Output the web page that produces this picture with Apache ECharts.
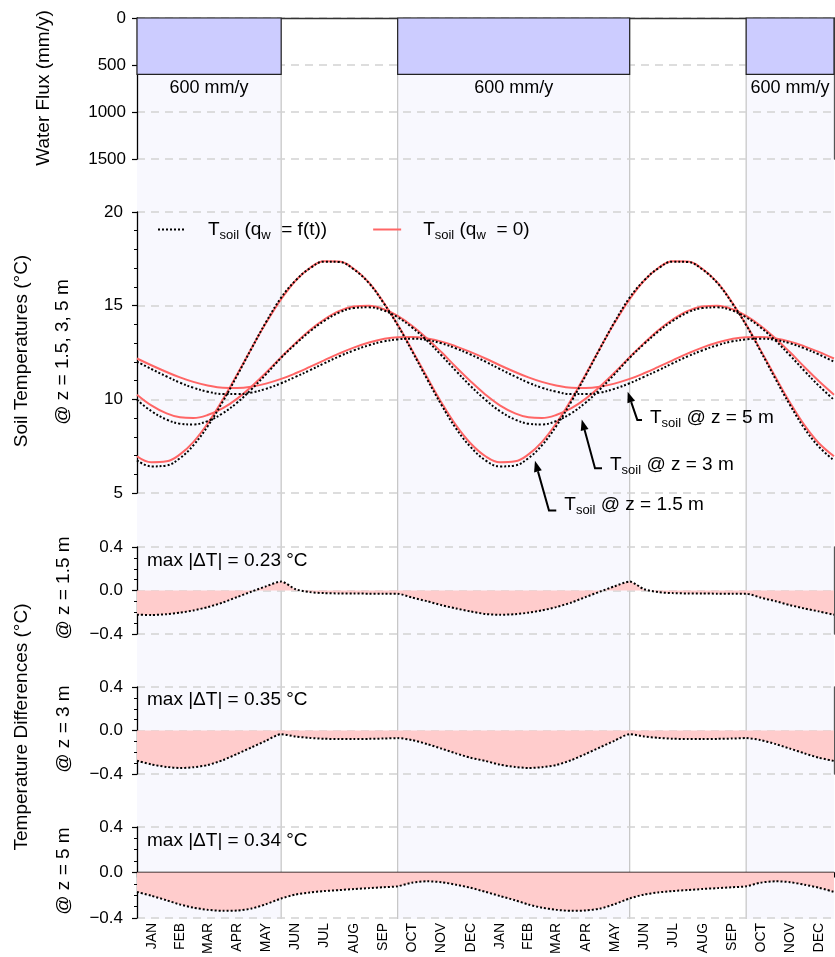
<!DOCTYPE html>
<html><head><meta charset="utf-8">
<script src="https://cdn.jsdelivr.net/npm/echarts@6/dist/echarts.min.js"></script>
<style>html,body{margin:0;padding:0;background:#fff}#c{width:835px;height:957px}</style>
</head><body><div id="c"></div>
<script>
// ---------- data ----------
const monthLabels = ['JAN','FEB','MAR','APR','MAY','JUN','JUL','AUG','SEP','OCT','NOV','DEC','JAN','FEB','MAR','APR','MAY','JUN','JUL','AUG','SEP','OCT','NOV','DEC'];
const monthEdges = [0,31,59,90,120,151,181,212,243,273,304,334,365,396,424,455,485,516,546,577,608,638,669,699,730];

// water flux periods (day of 2-year run) and rates (mm/y)
const fluxStart = [0, 273, 638];
const fluxEnd   = [151, 516, 730];
const fluxRate  = [600, 600, 600];

// sample days (half-month) for all curves
const sampleDays = [0,15,31,45,59,74,90,105,120,135,151,166,181,196,212,227,243,258,273,288,304,319,334,349,365,380,396,410,424,439,455,470,485,500,516,531,546,561,577,592,608,623,638,653,669,684,699,714,730];

// soil temperatures (deg C), conduction only (q_w = 0)
const tZero15 = [6.96,6.64,6.69,7.06,7.72,8.71,10.00,11.34,12.73,14.07,15.35,16.33,17.01,17.37,17.36,16.97,16.23,15.19,13.99,12.64,11.16,9.82,8.62,7.67,
                 6.96,6.64,6.69,7.06,7.72,8.71,10.00,11.34,12.73,14.07,15.35,16.33,17.01,17.37,17.36,16.97,16.23,15.19,13.99,12.64,11.16,9.82,8.62,7.67,6.96];
const tZero3  = [10.25,9.68,9.25,9.04,9.00,9.16,9.53,10.04,10.69,11.42,12.25,13.00,13.69,14.26,14.72,14.95,14.99,14.82,14.45,13.93,13.24,12.51,11.73,10.98,
                 10.25,9.68,9.25,9.04,9.00,9.16,9.53,10.04,10.69,11.42,12.25,13.00,13.69,14.26,14.72,14.95,14.99,14.82,14.45,13.93,13.24,12.51,11.73,10.98,10.25];
const tZero5  = [12.18,11.82,11.46,11.17,10.93,10.74,10.62,10.61,10.68,10.84,11.09,11.39,11.73,12.08,12.45,12.76,13.03,13.22,13.32,13.33,13.25,13.08,12.83,12.53,
                 12.18,11.82,11.46,11.17,10.93,10.74,10.62,10.61,10.68,10.84,11.09,11.39,11.73,12.08,12.45,12.76,13.03,13.22,13.32,13.33,13.25,13.08,12.83,12.53,12.18];
// soil temperatures (deg C), with water flux (q_w = f(t))
const tFlow15 = [6.74,6.42,6.47,6.86,7.54,8.56,9.89,11.28,12.72,14.11,15.43,16.34,16.99,17.35,17.33,16.94,16.20,15.16,13.96,12.58,11.06,9.69,8.45,7.48,
                 6.74,6.42,6.47,6.86,7.54,8.56,9.89,11.28,12.72,14.11,15.43,16.34,16.99,17.35,17.33,16.94,16.20,15.16,13.96,12.58,11.06,9.69,8.45,7.48,6.74];
const tFlow3  = [9.97,9.37,8.92,8.70,8.66,8.84,9.26,9.83,10.54,11.33,12.22,12.95,13.62,14.18,14.64,14.87,14.91,14.75,14.38,13.84,13.12,12.34,11.52,10.73,
                 9.97,9.37,8.92,8.70,8.66,8.84,9.26,9.83,10.54,11.33,12.22,12.95,13.62,14.18,14.64,14.87,14.91,14.75,14.38,13.84,13.12,12.34,11.52,10.73,9.97];
const tFlow5  = [12.01,11.62,11.22,10.89,10.62,10.41,10.28,10.28,10.36,10.56,10.86,11.20,11.55,11.92,12.30,12.61,12.89,13.09,13.20,13.24,13.17,12.99,12.72,12.40,
                 12.01,11.62,11.22,10.89,10.62,10.41,10.28,10.28,10.36,10.56,10.86,11.20,11.55,11.92,12.30,12.61,12.89,13.09,13.20,13.24,13.17,12.99,12.72,12.40,12.01];

// temperature differences (deg C)
const dT15 = [-0.223,-0.225,-0.218,-0.204,-0.183,-0.153,-0.110,-0.060,-0.010,0.038,0.082,0.012,-0.015,-0.024,-0.027,-0.028,-0.029,-0.030,-0.030,-0.065,-0.099,-0.135,-0.165,-0.192,-0.216,
              -0.223,-0.218,-0.204,-0.183,-0.153,-0.110,-0.060,-0.010,0.038,0.082,0.012,-0.015,-0.024,-0.027,-0.028,-0.029,-0.030,-0.030,-0.065,-0.099,-0.135,-0.165,-0.192,-0.223];
const dT3  = [-0.278,-0.312,-0.335,-0.345,-0.338,-0.318,-0.272,-0.215,-0.155,-0.095,-0.034,-0.055,-0.068,-0.076,-0.078,-0.079,-0.077,-0.074,-0.070,-0.088,-0.125,-0.167,-0.210,-0.250,-0.280,
              -0.314,-0.335,-0.345,-0.338,-0.318,-0.272,-0.215,-0.155,-0.095,-0.034,-0.055,-0.068,-0.076,-0.078,-0.079,-0.077,-0.074,-0.070,-0.088,-0.125,-0.167,-0.210,-0.250,-0.280];
const dT5  = [-0.171,-0.205,-0.245,-0.282,-0.310,-0.329,-0.338,-0.335,-0.318,-0.280,-0.229,-0.195,-0.176,-0.164,-0.155,-0.146,-0.138,-0.130,-0.122,-0.090,-0.078,-0.086,-0.108,-0.134,-0.171,
              -0.207,-0.245,-0.282,-0.310,-0.329,-0.338,-0.335,-0.318,-0.280,-0.229,-0.195,-0.176,-0.164,-0.155,-0.146,-0.138,-0.130,-0.122,-0.090,-0.078,-0.086,-0.108,-0.134,-0.171];
const maxAbsDT = [0.23, 0.35, 0.34];
const diffDepths = ['1.5 m', '3 m', '5 m'];

// annotation anchors in (day, deg C)
const annotations = [
  {depth:'5 m',   tip:[513.9,10.41], bend:[524.0,8.90], text:[537.3,9.00]},
  {depth:'3 m',   tip:[465.8,8.93],  bend:[479.7,6.32], text:[495.4,6.49]},
  {depth:'1.5 m', tip:[416.8,6.72],  bend:[431.5,4.06], text:[447.5,4.36]}
];

// ---------- chart ----------
const FONT = '"Liberation Sans", Arial, Helvetica, sans-serif';
const chart = echarts.init(document.getElementById('c'), null, {renderer:'canvas'});
const L = 137, R = 1;
const grids = [
  {left:L, right:R, top:18, height:901},   // background
  {left:L, right:R, top:18, height:141},   // flux
  {left:L, right:R, top:212, height:281},  // temperatures
  {left:L, right:R, top:547, height:87},   // dT 1.5
  {left:L, right:R, top:687, height:87},   // dT 3
  {left:L, right:R, top:827, height:92}    // dT 5
];
const monthMids = monthEdges.slice(0,-1).map((e,i)=> (e+monthEdges[i+1])/2);
const splitStyle = {show:true, lineStyle:{color:'#d2d2d2', type:[8,6], width:1.5}};
const axisBlack = {show:true, lineStyle:{color:'#000', width:1.3}};
const tickStyle = {show:true, length:5, lineStyle:{color:'#000', width:1.2}};
const lblStyle = {color:'#000', fontSize:17, fontFamily:FONT};
const minusFmt = v => (v < 0 ? '\u2212' : '') + Math.abs(v).toFixed(1);

const xAxes = grids.map((g,i)=>({
  type:'value', gridIndex:i, min:0, max:730, show:false,
  splitLine:{show:false}
}));
xAxes[1] = {type:'value', gridIndex:1, min:0, max:730, position:'top',
  axisLine:{show:true, lineStyle:{color:'#333', width:1.3}}, axisTick:{show:false}, axisLabel:{show:false}, splitLine:{show:false}};
xAxes[5] = {type:'value', gridIndex:5, min:0, max:730, position:'bottom',
  axisLine:{show:true, lineStyle:{color:'#000', width:1.3}},
  axisTick:{show:true, length:5, customValues:monthEdges, lineStyle:{color:'#000', width:1.2}},
  axisLabel:{show:true, customValues:monthMids, rotate:90, margin:5, fontSize:14, color:'#000', fontFamily:FONT,
    formatter:(v)=>{ const i = monthMids.findIndex(m=>Math.abs(m-v)<0.01); return i>=0 ? monthLabels[i] : ''; }},
  splitLine:{show:false}};

const yAxes = [
  {type:'value', gridIndex:0, min:0, max:1, show:false},
  {type:'value', gridIndex:1, min:0, max:1500, interval:500, inverse:true,
    axisLine:axisBlack, axisTick:tickStyle, axisLabel:Object.assign({margin:11, formatter:v=>String(v)}, lblStyle), splitLine:splitStyle},
  {type:'value', gridIndex:2, min:5, max:20, interval:5,
    axisLine:axisBlack, axisTick:tickStyle, minorTick:{show:true, splitNumber:5, length:3, lineStyle:{color:'#000'}},
    axisLabel:Object.assign({margin:14}, lblStyle), splitLine:splitStyle},
];
[3,4,5].forEach(gi=>{
  yAxes.push({type:'value', gridIndex:gi, min:-0.4, max:0.4, interval:0.4,
    axisLine:axisBlack, axisTick:tickStyle, minorTick:{show:true, splitNumber:4, length:3, lineStyle:{color:'#000'}},
    axisLabel:Object.assign({margin:14, formatter:minusFmt}, lblStyle), splitLine:splitStyle});
});
// right frame lines
[[1,0,1500,true],[3,-0.4,0.4,false],[4,-0.4,0.4,false]].forEach(a=>{
  yAxes.push({type:'value', gridIndex:a[0], min:a[1], max:a[2], inverse:a[3], position:'right',
    axisLine:{show:true, lineStyle:{color:'#555', width:1.3}}, axisTick:{show:false}, axisLabel:{show:false}, splitLine:{show:false}});
});

const richT = {
  m:{fontSize:19, lineHeight:24, fontFamily:FONT, color:'#000'},
  s:{fontSize:13, lineHeight:12, verticalAlign:'bottom', fontFamily:FONT, color:'#000'}
};

const periods = fluxStart.map((s,i)=>[s, fluxEnd[i], fluxRate[i]]);
const series = [
  {type:'custom', name:'bg', xAxisIndex:0, yAxisIndex:0, z:-5, silent:true,
    encode:{x:[0,1]}, data:periods,
    renderItem:(p, api)=>{
      const s = api.value(0), e = api.value(1);
      const a = api.coord([s,1]), b = api.coord([e,0]);
      const ch = [{type:'rect', shape:{x:a[0], y:a[1], width:b[0]-a[0], height:b[1]-a[1]}, style:{fill:'#f8f8fe'}}];
      if (s > 0) ch.push({type:'line', shape:{x1:a[0], y1:a[1], x2:a[0], y2:b[1]}, style:{stroke:'#c4c4c4', lineWidth:1.2}});
      if (e < 730) ch.push({type:'line', shape:{x1:b[0], y1:a[1], x2:b[0], y2:b[1]}, style:{stroke:'#c4c4c4', lineWidth:1.2}});
      return {type:'group', children:ch};
    }},
  {type:'custom', name:'flux', xAxisIndex:1, yAxisIndex:1, z:3, silent:true,
    encode:{x:[0,1], y:2}, data:periods,
    renderItem:(p, api)=>{
      const s = api.value(0), e = api.value(1), v = api.value(2);
      const a = api.coord([s,0]), b = api.coord([e,v]);
      return {type:'group', children:[
        {type:'rect', shape:{x:a[0], y:a[1], width:b[0]-a[0], height:b[1]-a[1]}, style:{fill:'#ccccff', stroke:'#222', lineWidth:1.2}},
        {type:'text', style:{text:v+' mm/y', x:(a[0]+b[0])/2, y:b[1]+5, align:'center', verticalAlign:'top', fontSize:18, fontFamily:FONT, fill:'#000'}}
      ]};
    }}
];
const zeroSets = [tZero15, tZero3, tZero5];
const flowSets = [tFlow15, tFlow3, tFlow5];
zeroSets.forEach(arr=>series.push({name:'q0', type:'line', xAxisIndex:2, yAxisIndex:2, symbol:'none', smooth:0.4, z:3,
  lineStyle:{color:'#ff6666', width:2}, itemStyle:{color:'#ff6666'}, data:sampleDays.map((d,i)=>[d, arr[i]])}));
flowSets.forEach(arr=>series.push({name:'qf', type:'line', xAxisIndex:2, yAxisIndex:2, symbol:'none', smooth:0.4, z:4,
  lineStyle:{color:'#000', width:2, type:'dotted'}, itemStyle:{color:'#000'}, data:sampleDays.map((d,i)=>[d, arr[i]])}));
[dT15, dT3, dT5].forEach((arr,k)=>series.push({name:'dT'+k, type:'line', xAxisIndex:3+k, yAxisIndex:3+k, symbol:'none', smooth:0.25, z:4,
  lineStyle:{color:'#000', width:2, type:'dotted'}, areaStyle:{color:'#ffcccc', opacity:1},
  data:sampleDays.map((d,i)=>[d, arr[i]])}));

const option = {
  animation:false,
  backgroundColor:'#fff',
  grid:grids, xAxis:xAxes, yAxis:yAxes, series:series,
  legend:{data:['qf','q0'], left:152, top:215, itemWidth:28, itemHeight:14, itemGap:45, selectedMode:false,
    itemStyle:{opacity:0, borderWidth:0},
    formatter:(n)=> n==='qf' ? '{m|T}{s|soil}{m| (q}{s|w}{m|  = f(t))}' : '{m|T}{s|soil}{m| (q}{s|w}{m|  = 0)}',
    textStyle:{padding:[0,0,0,17], rich:richT}}
};
chart.setOption(option);

// ---------- texts & annotations ----------
const g = [];
const vText = (txt, x, y) => g.push({type:'text', x:x, y:y, rotation:Math.PI/2,
  style:{text:txt, align:'center', verticalAlign:'middle', fontSize:19, fontFamily:FONT, fill:'#000'}});
vText('Water Flux (mm/y)', 44, 88);
vText('Soil Temperatures (\u00B0C)', 22, 351);
vText('@ z = 1.5, 3, 5 m', 63, 352);
vText('Temperature Differences (\u00B0C)', 22, 727);
const dtCentres = [588, 729, 871];
diffDepths.forEach((d,i)=>vText('@ z = '+d, 63.5, dtCentres[i]));
const maxY = [561, 700, 841];
maxAbsDT.forEach((v,i)=>g.push({type:'text', x:147, y:maxY[i],
  style:{text:'max |\u0394T| = '+v.toFixed(2)+' \u00B0C', align:'left', verticalAlign:'middle', fontSize:19, fontFamily:FONT, fill:'#000'}}));

const px = p => chart.convertToPixel({xAxisIndex:2, yAxisIndex:2}, p);
annotations.forEach(a=>{
  const tip = px(a.tip), bend = px(a.bend), txt = px(a.text);
  const hx = txt[0] - 8;
  const dx = tip[0]-bend[0], dy = tip[1]-bend[1], len = Math.hypot(dx,dy), ux = dx/len, uy = dy/len;
  const hl = 11, hw = 4;
  const base = [tip[0]-ux*hl, tip[1]-uy*hl];
  g.push({type:'polyline', z:100, shape:{points:[[hx,bend[1]], bend, base]}, style:{stroke:'#000', lineWidth:2, fill:'none'}});
  g.push({type:'polygon', z:100, shape:{points:[tip, [base[0]-uy*hw, base[1]+ux*hw], [base[0]+uy*hw, base[1]-ux*hw]]}, style:{fill:'#000'}});
  g.push({type:'text', z:100, x:txt[0], y:txt[1], style:{text:'{m|T}{s|soil}{m| @ z = '+a.depth+'}', rich:richT, align:'left', verticalAlign:'middle'}});
});
chart.setOption({graphic:g});
</script>
</body></html>
